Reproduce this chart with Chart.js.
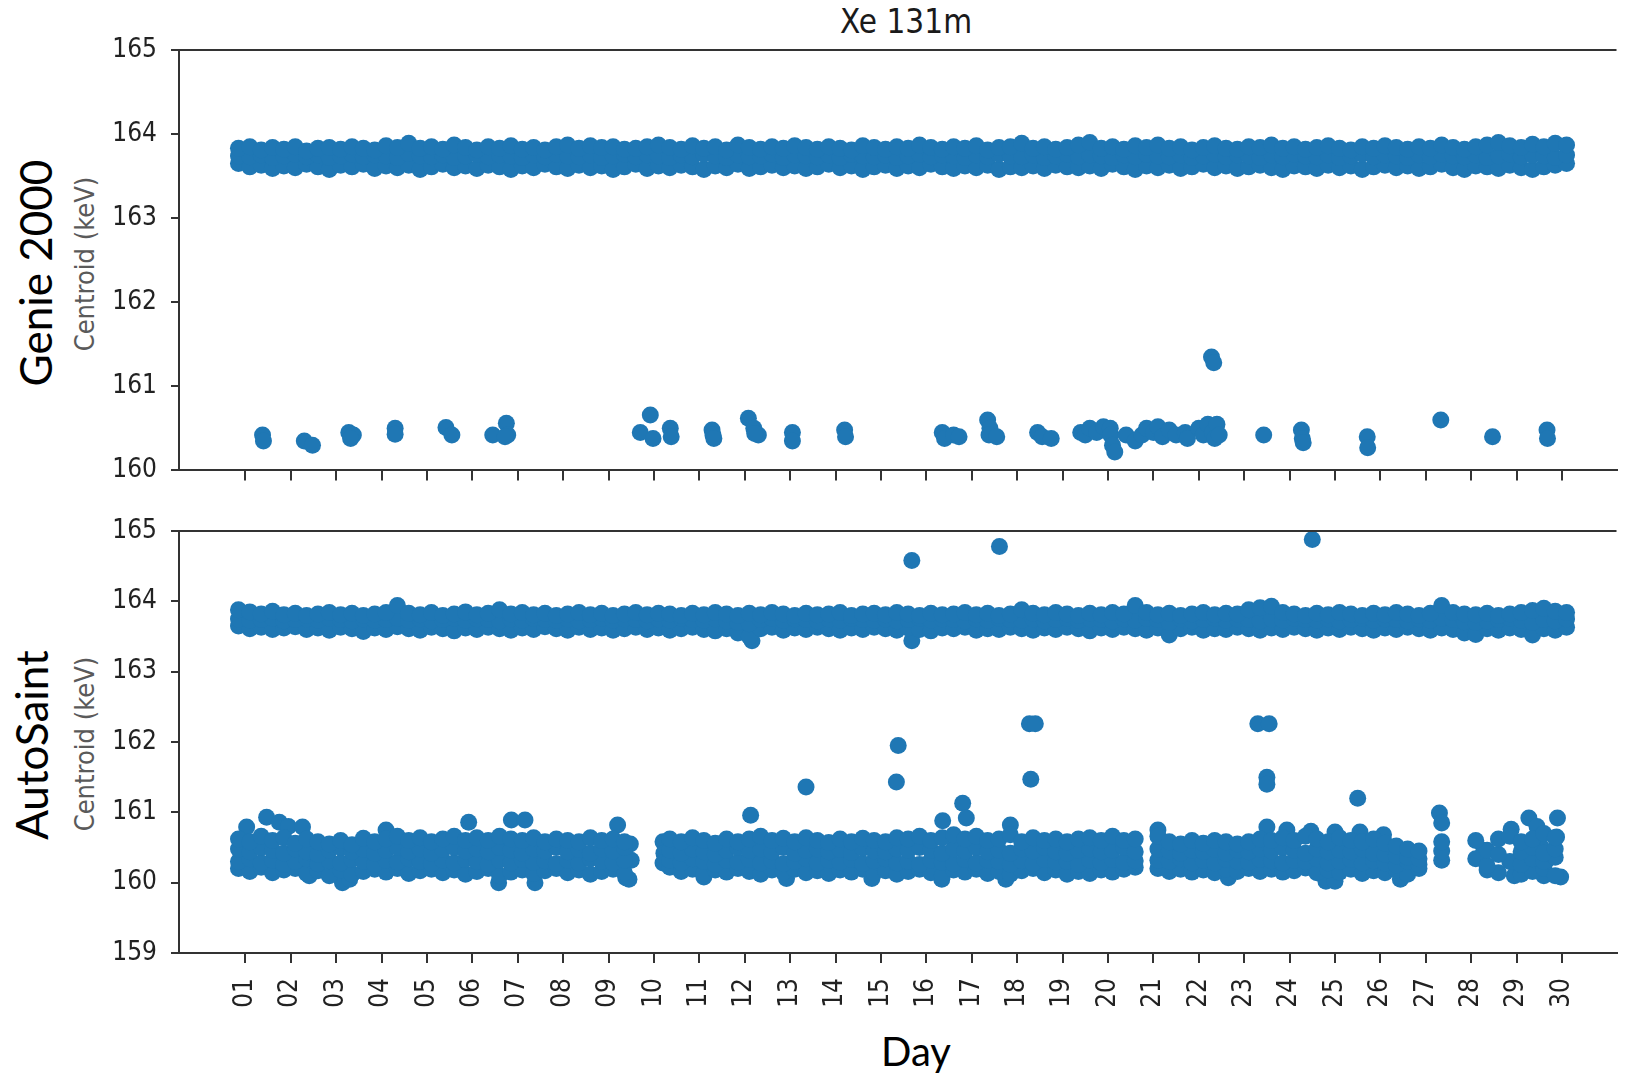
<!DOCTYPE html>
<html><head><meta charset="utf-8">
<script src="https://cdn.jsdelivr.net/npm/chart.js@4.4.1/dist/chart.umd.min.js"></script>
<style>
html,body{margin:0;padding:0;background:#fff;width:1625px;height:1073px;overflow:hidden;position:relative;}
canvas{position:absolute;left:0;}
.lbl{position:absolute;white-space:nowrap;transform:translate(-50%,-50%);line-height:1;}
.rot{transform:translate(-50%,-50%) rotate(-90deg);}
.cond{font-family:'DejaVu Sans Condensed','DejaVu Sans',sans-serif;}
.big{font-family:Lato,'Liberation Sans',sans-serif;color:#000;}
</style></head>
<body>
<div class="lbl cond" style="left:906px;top:21px;font-size:33px;color:#1a1a1a">Xe 131m</div>
<div class="lbl rot big" style="left:35px;top:273px;font-size:44px">Genie 2000</div>
<div class="lbl rot big" style="left:31px;top:745px;font-size:44px">AutoSaint</div>
<div class="lbl rot cond" style="left:84px;top:264px;font-size:27px;color:#5a5a5a">Centroid (keV)</div>
<div class="lbl rot cond" style="left:84px;top:744px;font-size:27px;color:#5a5a5a">Centroid (keV)</div>
<div class="lbl big" style="left:916px;top:1051px;font-size:40px">Day</div>
<canvas id="c1" width="1625" height="500" style="top:0"></canvas>
<canvas id="c2" width="1625" height="573" style="top:500px"></canvas>
<script>
// ---------- data ----------
const tickDays = [1,2,3,4,5,6,7,8,9,10,11,12,13,14,15,16,17,18,19,20,21,22,23,24,25,26,27,28,29,30];
const tickLabels = ['01','02','03','04','05','06','07','08','09','10','11','12','13','14','15','16','17','18','19','20','21','22','23','24','25','26','27','28','29','30'];

const sampleDays = [0.85,
 1.10,1.35,1.60,1.85, 2.10,2.35,2.60,2.85, 3.10,3.35,3.60,3.85, 4.10,4.35,4.60,4.85, 5.10,5.35,5.60,5.85,
 6.10,6.35,6.60,6.85, 7.10,7.35,7.60,7.85, 8.10,8.35,8.60,8.85, 9.10,9.35,9.60,9.85, 10.10,10.35,10.60,10.85,
 11.10,11.35,11.60,11.85, 12.10,12.35,12.60,12.85, 13.10,13.35,13.60,13.85, 14.10,14.35,14.60,14.85, 15.10,15.35,15.60,15.85,
 16.10,16.35,16.60,16.85, 17.10,17.35,17.60,17.85, 18.10,18.35,18.60,18.85, 19.10,19.35,19.60,19.85, 20.10,20.35,20.60,20.85,
 21.10,21.35,21.60,21.85, 22.10,22.35,22.60,22.85, 23.10,23.35,23.60,23.85, 24.10,24.35,24.60,24.85, 25.10,25.35,25.60,25.85,
 26.10,26.35,26.60,26.85, 27.10,27.35,27.60,27.85, 28.10,28.35,28.60,28.85, 29.10,29.35,29.60,29.85, 30.10];

// Genie 2000 main band (upper, middle and lower layer of the dense band)
const genieHigh = [
 163.83,163.85,163.81,163.84,163.82,163.85,163.80,163.83,163.84,163.82,
 163.85,163.83,163.81,163.86,163.84,163.89,163.83,163.85,163.82,163.87,
 163.84,163.81,163.85,163.83,163.86,163.82,163.84,163.81,163.85,163.87,
 163.83,163.86,163.84,163.85,163.82,163.83,163.85,163.87,163.84,163.82,
 163.86,163.83,163.85,163.81,163.87,163.84,163.82,163.85,163.83,163.86,
 163.84,163.82,163.85,163.83,163.81,163.86,163.84,163.82,163.85,163.83,
 163.87,163.84,163.82,163.85,163.83,163.86,163.81,163.84,163.85,163.89,
 163.83,163.85,163.82,163.84,163.87,163.90,163.83,163.85,163.82,163.86,
 163.84,163.87,163.83,163.85,163.81,163.84,163.86,163.83,163.82,163.85,
 163.84,163.87,163.83,163.85,163.82,163.84,163.86,163.83,163.81,163.85,
 163.83,163.86,163.84,163.82,163.85,163.83,163.87,163.84,163.82,163.85,
 163.87,163.90,163.86,163.84,163.88,163.85,163.89,163.87];
const genieMid = [
 163.74,163.73,163.75,163.72,163.74,163.76,163.73,163.75,163.72,163.74,
 163.76,163.73,163.75,163.74,163.72,163.77,163.74,163.73,163.75,163.72,
 163.74,163.76,163.73,163.75,163.74,163.72,163.75,163.73,163.76,163.74,
 163.73,163.75,163.72,163.74,163.76,163.73,163.75,163.74,163.72,163.75,
 163.73,163.76,163.74,163.72,163.75,163.73,163.74,163.76,163.72,163.75,
 163.74,163.73,163.75,163.72,163.76,163.74,163.73,163.75,163.72,163.74,
 163.76,163.73,163.75,163.74,163.72,163.75,163.73,163.76,163.74,163.73,
 163.75,163.72,163.74,163.76,163.73,163.75,163.74,163.72,163.75,163.73,
 163.76,163.74,163.73,163.75,163.72,163.74,163.76,163.73,163.75,163.74,
 163.72,163.75,163.73,163.76,163.74,163.73,163.75,163.72,163.74,163.76,
 163.73,163.75,163.74,163.72,163.75,163.73,163.76,163.74,163.73,163.75,
 163.72,163.74,163.76,163.73,163.75,163.74,163.72,163.75];
const genieLow = [
 163.65,163.61,163.63,163.59,163.62,163.60,163.64,163.61,163.58,163.63,
 163.61,163.64,163.59,163.62,163.60,163.63,163.58,163.61,163.64,163.60,
 163.62,163.59,163.63,163.61,163.58,163.62,163.60,163.64,163.61,163.59,
 163.63,163.60,163.62,163.58,163.61,163.64,163.59,163.62,163.60,163.63,
 163.61,163.58,163.62,163.60,163.64,163.59,163.61,163.63,163.60,163.62,
 163.59,163.61,163.64,163.60,163.62,163.58,163.61,163.63,163.59,163.62,
 163.60,163.64,163.61,163.59,163.62,163.60,163.63,163.58,163.61,163.60,
 163.62,163.59,163.63,163.61,163.60,163.62,163.59,163.64,163.61,163.58,
 163.62,163.60,163.63,163.59,163.61,163.64,163.60,163.62,163.59,163.61,
 163.63,163.60,163.58,163.62,163.61,163.59,163.63,163.60,163.62,163.58,
 163.61,163.63,163.60,163.62,163.59,163.61,163.64,163.60,163.58,163.62,
 163.61,163.59,163.63,163.60,163.58,163.61,163.63,163.65];
// Genie 2000 low-energy points
const genieSparseDays = [1.38,1.40,2.30,2.48,3.28,3.38,3.32,4.30,4.30,5.42,5.55,6.45,6.75,6.78,6.72,9.70,9.92,9.98,10.36,10.38,
 11.28,11.30,11.32,12.08,12.20,12.30,12.22,13.05,13.05,14.20,14.22,16.35,16.40,16.60,16.72,17.35,17.40,17.38,17.55,18.45,18.55,18.75,
 19.40,19.50,19.60,19.75,19.90,20.05,20.06,20.10,20.15,20.40,20.60,20.75,20.85,21.00,21.10,21.20,21.35,21.50,21.70,21.75,
 22.00,22.10,22.20,22.30,22.35,22.40,22.45,22.28,22.33,23.43,24.26,24.28,24.30,25.71,25.72,27.33,28.47,29.67,29.68];
const genieSparseValues = [160.42,160.35,160.35,160.30,160.45,160.42,160.38,160.50,160.43,160.51,160.42,160.42,160.56,160.42,160.40,160.45,160.66,160.38,160.50,160.40,
 160.48,160.42,160.38,160.62,160.50,160.42,160.44,160.45,160.35,160.48,160.40,160.45,160.38,160.42,160.40,160.60,160.50,160.42,160.40,160.45,160.40,160.38,
 160.45,160.42,160.50,160.45,160.52,160.50,160.42,160.30,160.22,160.42,160.35,160.42,160.50,160.45,160.52,160.40,160.48,160.42,160.45,160.38,
 160.50,160.42,160.55,160.45,160.38,160.55,160.42,161.35,161.28,160.42,160.48,160.38,160.33,160.40,160.27,160.60,160.40,160.48,160.38];

// AutoSaint upper band
const autoHigh = [
 163.88,163.85,163.82,163.86,163.81,163.83,163.80,163.82,163.84,163.81,
 163.83,163.80,163.82,163.84,163.94,163.83,163.81,163.84,163.80,163.82,
 163.85,163.81,163.83,163.88,163.82,163.84,163.81,163.83,163.80,163.82,
 163.84,163.81,163.83,163.80,163.82,163.84,163.81,163.83,163.82,163.80,
 163.83,163.81,163.84,163.82,163.80,163.83,163.81,163.84,163.82,163.80,
 163.83,163.81,163.82,163.84,163.80,163.82,163.83,163.81,163.84,163.82,
 163.80,163.83,163.81,163.82,163.84,163.81,163.83,163.80,163.82,163.88,
 163.83,163.81,163.84,163.82,163.80,163.83,163.81,163.84,163.82,163.94,
 163.84,163.81,163.83,163.80,163.82,163.84,163.81,163.83,163.82,163.88,
 163.91,163.93,163.84,163.82,163.80,163.83,163.81,163.84,163.82,163.80,
 163.83,163.81,163.84,163.82,163.80,163.83,163.94,163.84,163.82,163.81,
 163.83,163.80,163.82,163.84,163.87,163.90,163.86,163.84];
const autoMid = [
 163.75,163.73,163.74,163.76,163.72,163.74,163.75,163.73,163.76,163.74,
 163.72,163.75,163.73,163.74,163.76,163.73,163.75,163.72,163.74,163.76,
 163.73,163.75,163.74,163.72,163.75,163.73,163.76,163.74,163.73,163.75,
 163.72,163.74,163.76,163.73,163.75,163.74,163.72,163.75,163.73,163.76,
 163.74,163.73,163.75,163.72,163.70,163.68,163.74,163.76,163.73,163.75,
 163.74,163.72,163.75,163.73,163.76,163.74,163.73,163.75,163.72,163.74,
 163.76,163.73,163.75,163.74,163.72,163.75,163.73,163.76,163.74,163.73,
 163.75,163.72,163.74,163.76,163.73,163.75,163.74,163.72,163.75,163.73,
 163.76,163.74,163.70,163.75,163.72,163.74,163.76,163.73,163.75,163.74,
 163.72,163.75,163.73,163.76,163.74,163.73,163.75,163.72,163.74,163.76,
 163.73,163.75,163.74,163.72,163.75,163.73,163.76,163.74,163.71,163.70,
 163.72,163.74,163.76,163.73,163.70,163.74,163.72,163.75];
const autoLow = [
 163.65,163.61,163.63,163.60,163.62,163.64,163.60,163.62,163.59,163.63,
 163.61,163.57,163.62,163.60,163.64,163.61,163.59,163.63,163.61,163.58,
 163.62,163.60,163.63,163.61,163.59,163.62,163.60,163.64,163.61,163.59,
 163.63,163.60,163.62,163.59,163.61,163.63,163.60,163.62,163.59,163.61,
 163.63,163.60,163.58,163.61,163.55,163.50,163.61,163.63,163.59,163.62,
 163.60,163.63,163.61,163.59,163.62,163.60,163.63,163.61,163.59,163.62,
 163.60,163.58,163.62,163.61,163.63,163.59,163.61,163.60,163.63,163.61,
 163.59,163.62,163.60,163.63,163.61,163.58,163.62,163.60,163.63,163.61,
 163.59,163.62,163.52,163.61,163.63,163.59,163.61,163.60,163.63,163.61,
 163.59,163.62,163.60,163.63,163.61,163.59,163.62,163.60,163.63,163.61,
 163.59,163.62,163.60,163.63,163.61,163.59,163.62,163.60,163.55,163.53,
 163.61,163.59,163.62,163.60,163.52,163.61,163.59,163.63];

// AutoSaint lower band, four layers (null = no measurement)
const autoRowA = [160.62,
 160.58,160.66,160.60,160.64, 160.56,160.62,160.58,160.55, 160.60,160.54,160.63,160.58, 160.62,160.66,160.60,160.64, 160.58,160.62,160.66,160.60,
 160.64,160.60,160.66,160.62, 160.60,160.64,160.58,160.62, 160.60,160.58,160.64,160.60, 160.62,160.58,null,null, null,160.62,160.58,160.64,
 160.60,160.56,160.62,160.58, 160.62,160.66,160.60,160.63, 160.58,160.64,160.60,160.57, 160.62,160.58,160.63,160.60, 160.58,160.64,160.62,160.66,
 160.60,160.64,160.68,160.62, 160.66,160.60,160.62,160.68, 160.58,160.64,160.60,160.62, 160.58,160.62,160.64,160.60, 160.66,160.60,160.62,null,
 160.66,160.58,160.55,160.60, 160.56,160.60,160.58,160.55, 160.58,160.62,160.60,160.64, 160.60,160.66,160.62,160.58, 160.64,160.60,160.58,160.62,
 160.56,160.52,160.48,160.45, null,160.58,null,null, 160.60,null,160.62,160.66, 160.58,160.62,160.70,160.64, null];
const autoRowB = [160.48,
 160.44,160.50,160.46,160.42, 160.48,160.44,160.40,160.46, 160.50,160.44,160.47,160.42, 160.46,160.50,160.44,160.48, 160.42,160.47,160.50,160.45,
 160.48,160.44,160.50,160.46, 160.42,160.48,160.45,160.50, 160.44,160.47,160.42,160.48, 160.45,160.50,null,null, null,160.46,160.42,160.48,
 160.44,160.40,160.46,160.50, 160.46,160.48,160.44,160.50, 160.42,160.46,160.48,160.44, 160.47,160.43,160.49,160.45, 160.44,160.48,160.46,160.50,
 160.46,160.42,160.48,160.45, 160.50,160.44,160.46,160.42, 160.48,160.45,160.50,160.44, 160.42,160.46,160.48,160.44, 160.46,160.50,160.44,null,
 160.48,160.45,160.42,160.46, 160.44,160.47,160.42,160.46, 160.44,160.48,160.45,160.50, 160.46,160.42,160.48,160.44, 160.46,160.44,160.48,160.42,
 160.40,160.38,160.36,160.34, null,160.45,null,null, null,160.46,160.40,null, 160.44,160.50,160.42,160.48, null];
const autoRowC = [160.30,
 160.34,160.28,160.32,160.26, 160.30,160.34,160.27,160.31, 160.28,160.33,160.30,160.26, 160.32,160.29,160.34,160.30, 160.27,160.32,160.28,160.33,
 160.30,160.26,160.32,160.28, 160.33,160.29,160.31,160.27, 160.32,160.28,160.34,160.30, 160.28,160.32,null,null, null,160.32,160.28,160.34,
 160.30,160.26,160.32,160.29, 160.33,160.28,160.31,160.27, 160.30,160.34,160.28,160.32, 160.29,160.33,160.27,160.31, 160.34,160.28,160.30,160.26,
 160.32,160.29,160.27,160.33, 160.28,160.32,160.30,160.26, 160.31,160.27,160.33,160.29, 160.30,160.26,160.32,160.28, 160.33,160.29,160.31,null,
 160.32,160.30,160.34,160.28, 160.32,160.28,160.33,160.30, 160.29,160.33,160.31,160.28, 160.32,160.30,160.34,160.28, 160.30,160.33,160.28,160.31,
 160.28,160.25,160.30,160.26, null,160.32,null,null, 160.34,160.24,null,160.30, 160.26,160.34,160.30,160.36, null];
const autoRowD = [160.20,
 160.16,160.22,160.14,160.18, 160.20,160.13,160.17,160.10, 160.18,160.12,160.16,160.19, 160.15,160.20,160.13,160.17, 160.19,160.14,160.18,160.12,
 160.16,160.20,160.10,160.15, 160.18,160.13,160.17,160.20, 160.14,160.18,160.12,160.16, 160.19,160.14,null,null, null,160.22,160.16,160.19,
 160.13,160.18,160.15,160.20, 160.16,160.12,160.18,160.15, 160.19,160.14,160.17,160.13, 160.18,160.15,160.19,160.14, 160.17,160.12,160.16,160.19,
 160.14,160.10,160.18,160.15, 160.19,160.13,160.16,160.12, 160.17,160.20,160.14,160.18, 160.12,160.16,160.13,160.18, 160.15,160.19,160.22,null,
 160.20,160.16,160.19,160.15, 160.18,160.14,160.19,160.16, 160.20,160.16,160.19,160.15, 160.17,160.21,160.14,160.18, 160.15,160.19,160.13,160.17,
 160.14,160.18,160.12,160.20, null,null,null,null, null,160.18,160.14,null, 160.12,160.16,160.20,160.10, null];
// AutoSaint scattered points (outliers and sparse measurements)
const autoSparseDays = [1.03,1.47,1.75,1.95,2.26,4.10,5.92,6.86,7.16,9.20, 3.14,3.30,2.41,6.58,7.38,9.38, 9.48,9.50,9.45,10.20,10.22,10.20,
 12.13,13.35,15.34,15.38,16.80,16.88,16.36,18.30,18.27,18.40, 17.85,16.34,17.75,12.92,11.10,14.80,
 21.10,23.30,23.55,23.50,23.50,23.50,23.94,24.47,25.50,25.00, 25.55,26.07,24.80,25.00,26.44,22.65,
 27.30,27.35,28.88,29.27,29.45,29.90,29.88,29.97,29.60,28.95, 28.28,29.66,29.55, 15.68,17.61,24.50,15.68,12.16];
const autoSparseValues = [160.79,160.93,160.86,160.80,160.79,160.75,160.86,160.89,160.89,160.82, 160.00,160.05,160.10,160.00,160.00,160.07, 160.55,160.32,160.05,160.58,160.42,160.28,
 160.96,161.36,161.43,161.95,161.13,160.92,160.88,161.47,162.26,162.26, 160.82,160.05,160.05,160.06,160.08,160.06,
 160.75,162.26,162.26,161.50,161.40,160.79,160.75,160.73,161.20,160.72, 160.72,160.68,160.02,160.02,160.05,160.07,
 160.99,160.85,160.76,160.92,160.80,160.92,160.65,160.08,160.10,160.10, 160.46,160.32,160.50, 164.58,164.78,164.88,163.44,163.44];

// ---------- chart ----------
const BLUE = '#1f77b4';
const AX = '#333333';
const TICKFONT = "'DejaVu Sans Condensed','DejaVu Sans',sans-serif";

function pts(days, vals){
  const out = [];
  for (let i = 0; i < days.length; i++) { if (vals[i] !== null && vals[i] !== undefined) out.push({x: days[i], y: vals[i]}); }
  return out;
}
const spinePlugin = {
  id: 'topSpine',
  afterDatasetsDraw(chart){
    const {ctx, chartArea: a} = chart;
    ctx.save(); ctx.strokeStyle = AX; ctx.lineWidth = 2;
    ctx.beginPath(); ctx.moveTo(a.left - 1, a.top); ctx.lineTo(a.right, a.top); ctx.stroke();
    ctx.restore();
  }
};
function makeChart(id, sets, yMin, yMax, showLabels, padTop, xHeight){
  return new Chart(document.getElementById(id), {
    type: 'scatter',
    data: { datasets: sets.map(s => ({ data: s, backgroundColor: BLUE, borderWidth: 0, pointRadius: 8.5, pointHoverRadius: 8.5 })) },
    options: {
      responsive: false, animation: false, devicePixelRatio: 1,
      layout: { padding: { top: padTop, left: 0, right: 0, bottom: 0 } },
      plugins: { legend: { display: false }, tooltip: { enabled: false } },
      scales: {
        x: {
          type: 'linear', position: 'bottom', min: -0.46, max: 31.2,
          afterBuildTicks: s => { s.ticks = tickDays.map(v => ({ value: v })); },
          afterFit: s => { s.height = xHeight; },
          grid: { display: true, drawOnChartArea: false, drawTicks: true, tickLength: 10, color: AX, lineWidth: 2 },
          border: { display: true, color: AX, width: 2 },
          ticks: { display: showLabels, autoSkip: false, minRotation: 90, maxRotation: 90, padding: 15,
                   font: { family: TICKFONT, size: 26 }, color: '#222',
                   callback: v => tickLabels[tickDays.indexOf(v)] }
        },
        y: {
          position: 'left', min: yMin, max: yMax,
          afterFit: s => { s.width = 179; },
          grid: { display: true, drawOnChartArea: false, drawTicks: true, tickLength: 8, color: AX, lineWidth: 2 },
          border: { display: true, color: AX, width: 2 },
          ticks: { stepSize: 1, padding: 14, font: { family: TICKFONT, size: 26 }, color: '#222' }
        }
      }
    },
    plugins: [spinePlugin]
  });
}

makeChart('c1', [
  pts(sampleDays, genieHigh), pts(sampleDays, genieMid), pts(sampleDays, genieLow), pts(genieSparseDays, genieSparseValues)
], 160, 165, false, 50, 24);

makeChart('c2', [
  pts(sampleDays, autoHigh), pts(sampleDays, autoMid), pts(sampleDays, autoLow),
  pts(sampleDays, autoRowA), pts(sampleDays, autoRowB), pts(sampleDays, autoRowC), pts(sampleDays, autoRowD),
  pts(autoSparseDays, autoSparseValues)
], 159, 165, true, 31, 120);
</script>
</body></html>
